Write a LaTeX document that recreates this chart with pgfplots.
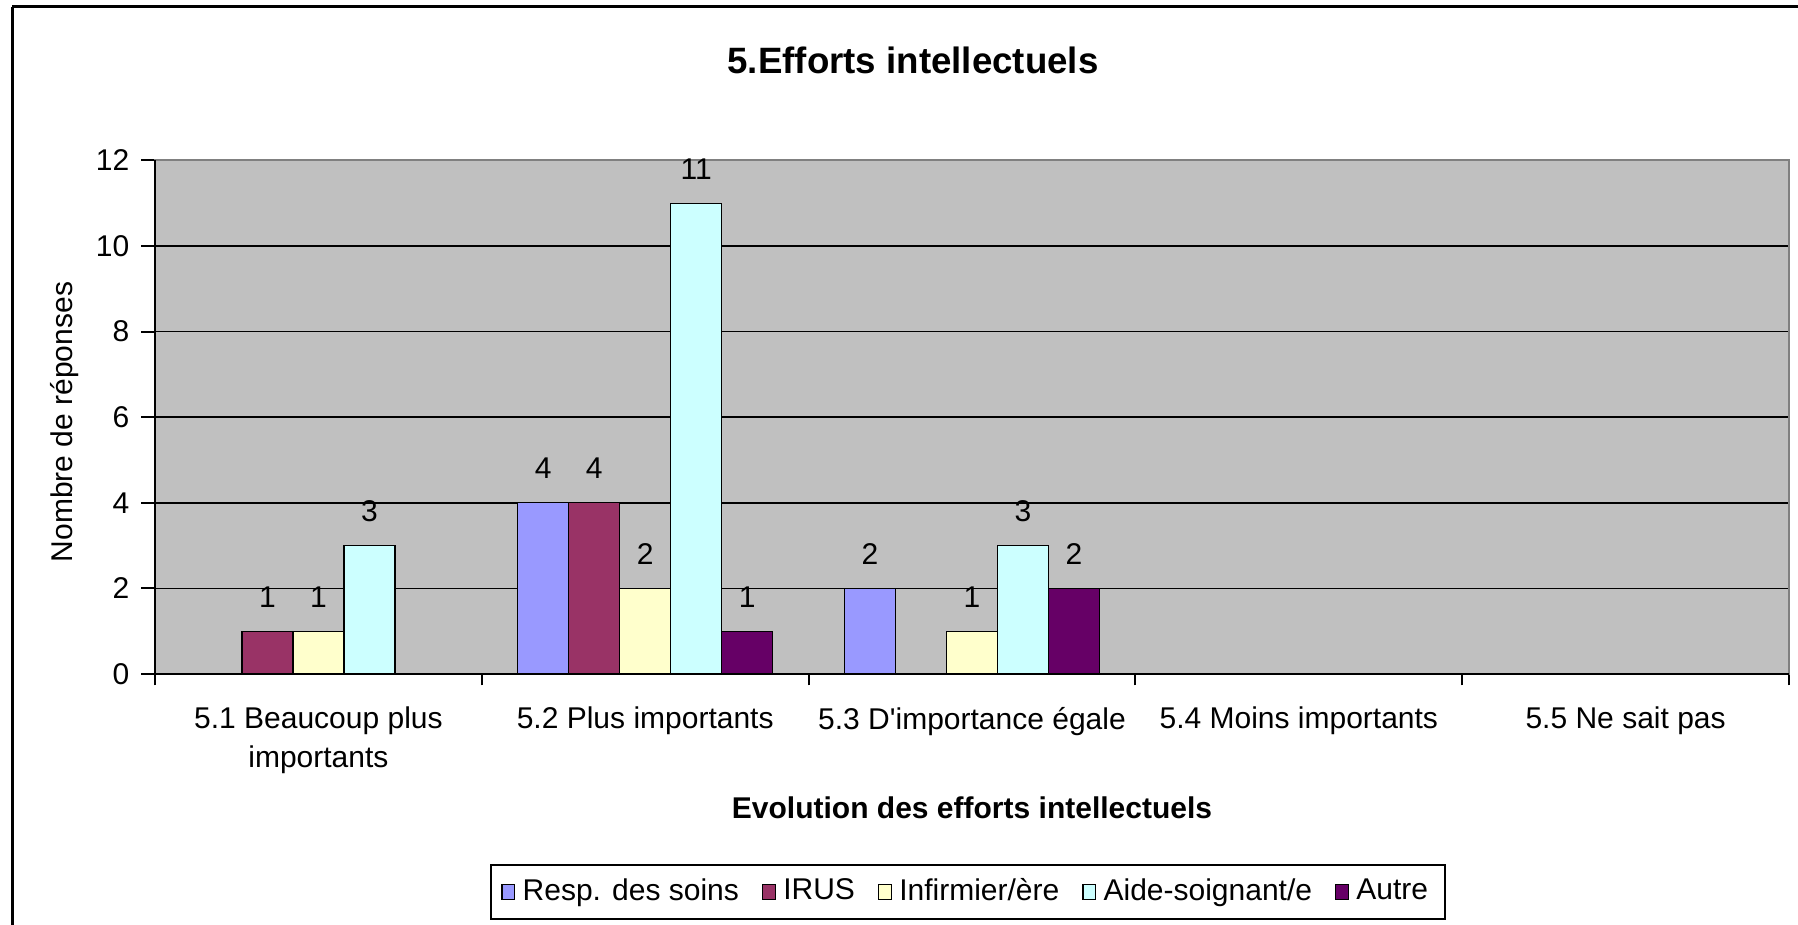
\documentclass[border=0pt]{standalone}
\usepackage{fontspec}
\setmainfont{Liberation Sans}
\usepackage{pgfplots}
\pgfplotsset{compat=1.18}
\definecolor{cResp}{HTML}{9999FF}
\definecolor{cIrus}{HTML}{993366}
\definecolor{cInf}{HTML}{FFFFCC}
\definecolor{cAide}{HTML}{CCFFFF}
\definecolor{cAutre}{HTML}{660066}
\definecolor{plotbg}{HTML}{C0C0C0}
\definecolor{plotborder}{HTML}{808080}
\begin{document}
\begin{tikzpicture}[x=1pt,y=1pt]
\useasboundingbox (0,0) rectangle (539.4,277.5);
\begin{scope}
\clip (0,0) rectangle (539.4,277.5);
\draw[line width=0.9pt] (3.6,275.4) -- (600,275.4);
\draw[line width=0.9pt] (3.6,275.4) -- (3.6,-20);
\end{scope}
\begin{axis}[at={(46.5pt,75.3pt)}, anchor=south west, scale only axis,
  width=490.2pt, height=154.05pt,
  /pgf/number format/assume math mode=true,
  ybar=0pt, bar width=0.156,
  xmin=-0.5, xmax=4.5, ymin=0, ymax=12,
  xtick={0,1,2,3,4},
  xticklabels={{5.1 Beaucoup plus\\importants},{5.2 Plus importants},{5.3 D\textquotesingle importance égale},{5.4 Moins importants},{5.5 Ne sait pas}},
  xticklabel style={align=center, font=\fontsize{9}{11.7}\selectfont, anchor=north, yshift=-2.2pt},
  yticklabel style={font=\fontsize{9}{10.8}\selectfont},
  major x tick style={draw=none},
  minor xtick={-0.5,0.5,1.5,2.5,3.5,4.5},
  ytick={0,2,...,12},
  xtick pos=bottom, ytick pos=left,
  tick align=outside,
  major tick length=4.2pt, minor tick length=3.4pt,
  tick style={black, line width=0.6pt},
  ymajorgrids, grid style={black, line width=0.5pt},
  axis background/.style={fill=plotbg},
  axis line style={plotborder, line width=0.6pt},
  nodes near coords,
  nodes near coords style={font=\fontsize{9}{10.8}\selectfont, anchor=south, inner sep=0pt, yshift=7pt, text=black},
  every axis plot post/.append style={legend image code/.code={\draw[##1, draw=black, line width=0.4pt] (0pt,-2.2pt) rectangle (3.8pt,2.2pt);}},
  legend style={at={(0.4976,-0.4245)}, anchor=center, legend columns=-1, draw=black, line width=0.6pt,
    font=\fontsize{9}{10.8}\selectfont, /tikz/every even column/.append style={column sep=4.9pt},
    /tikz/every odd column/.append style={column sep=0.2pt}},
  after end axis/.code={\draw[black, line width=0.6pt] (rel axis cs:0,1) -- (rel axis cs:0,0) -- (rel axis cs:1,0);},
]
\addplot[fill=cResp, draw=black, line width=0.4pt] coordinates {(1,4) (2,2)};
\addplot[fill=cIrus, draw=black, line width=0.4pt] coordinates {(0,1) (1,4)};
\addplot[fill=cInf, draw=black, line width=0.4pt] coordinates {(0,1) (1,2) (2,1)};
\addplot[fill=cAide, draw=black, line width=0.4pt] coordinates {(0,3) (1,11) (2,3)};
\addplot[fill=cAutre, draw=black, line width=0.4pt] coordinates {(1,1) (2,2)};
\legend{Resp. des soins, IRUS, Infirmier/ère, Aide-soignant/e, Autre}
\end{axis}
\node[font=\bfseries\fontsize{11}{13}\selectfont] at (273.9,259.5) {5.Efforts intellectuels};
\node[font=\fontsize{9}{10.8}\selectfont, rotate=90] at (19.5,150.9) {Nombre de réponses};
\node[font=\bfseries\fontsize{9}{10.8}\selectfont] at (291.6,35.1) {Evolution des efforts intellectuels};
\end{tikzpicture}
\end{document}
